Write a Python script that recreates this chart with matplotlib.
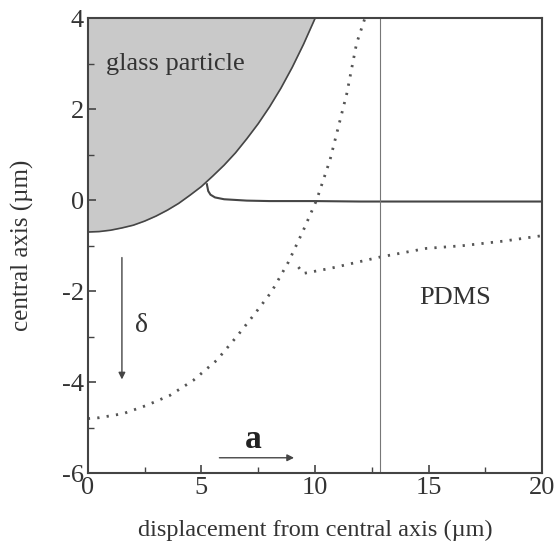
import matplotlib
matplotlib.use('Agg')
import numpy as np
import matplotlib.pyplot as plt

plt.rcParams['font.family'] = ['Liberation Serif', 'DejaVu Serif']
plt.rcParams['axes.unicode_minus'] = False

# glass particle surface
glass_x = [0, 0.5, 1, 1.5, 2, 2.5, 3, 3.5, 4, 4.5, 5, 5.5, 6, 6.5, 7, 7.5, 8, 8.5, 9, 9.5, 10, 10.1]
glass_y = [-0.70, -0.69, -0.66, -0.61, -0.55, -0.46, -0.35, -0.22, -0.07, 0.11, 0.30, 0.53, 0.77,
           1.04, 1.35, 1.68, 2.05, 2.46, 2.92, 3.43, 3.99, 4.11]

# solid line: PDMS surface
surf_x = [5.24, 5.3, 5.4, 5.6, 6.0, 7.0, 8.0, 10.0, 12.0, 14.0, 20.0]
surf_y = [0.35, 0.20, 0.12, 0.06, 0.02, -0.01, -0.02, -0.02, -0.03, -0.03, -0.03]

# dotted line 1
dot1_x = [0.0, 0.5, 1.56, 2.58, 3.61, 4.64, 5.67, 6.55, 7.36, 8.09, 8.83, 9.49, 10.07, 10.66, 11.4, 11.83, 12.2]
dot1_y = [-4.80, -4.78, -4.69, -4.51, -4.29, -3.96, -3.52, -3.0, -2.49, -2.01, -1.36, -0.66, 0.0, 0.88, 2.34, 3.44, 4.0]

# dotted line 2
dot2_x = [9.27, 9.49, 10.66, 12.86, 14.9, 16.5, 18.3, 20.0]
dot2_y = [-1.47, -1.61, -1.50, -1.25, -1.06, -1.0, -0.9, -0.78]

x_line = 12.85
line_col = '#454545'

fig = plt.figure(figsize=(5.56, 5.49), dpi=100)
ax = fig.add_axes([0.158, 0.138, 0.817, 0.829])

ax.fill_between(glass_x, glass_y, 4, color='#c9c9c9', lw=0)
ax.plot(glass_x, glass_y, color=line_col, lw=1.2)
ax.plot(surf_x, surf_y, color=line_col, lw=1.5)
ax.plot(dot1_x, dot1_y, color='#555555', lw=2.0, ls=(0, (0.8, 2.6)))
ax.plot(dot2_x, dot2_y, color='#555555', lw=2.0, ls=(0, (0.8, 2.6)))
ax.axvline(x_line, color='#777777', lw=0.8)

ax.annotate('', xy=(1.5, -4.0), xytext=(1.5, -1.2),
            arrowprops=dict(arrowstyle='-|>', color=line_col, lw=1.0, mutation_scale=10))
ax.annotate('', xy=(9.2, -5.66), xytext=(5.67, -5.66),
            arrowprops=dict(arrowstyle='-|>', color=line_col, lw=1.0, mutation_scale=10))
ax.text(2.35, -2.75, 'δ', fontsize=20, color='#333333', ha='center', va='center')
ax.text(7.3, -5.25, 'a', fontsize=24, fontweight='bold', color='#222222', ha='center', va='center')
ax.text(0.8, 3.0, 'glass particle', fontsize=19, color='#333333', va='center')
ax.text(16.15, -2.15, 'PDMS', fontsize=19, color='#333333', ha='center', va='center')

ax.set_xlim(0, 20)
ax.set_ylim(-6, 4)
ax.set_xticks([0, 5, 10, 15, 20])
ax.set_xticks([2.5, 7.5, 12.5, 17.5], minor=True)
ax.set_yticks([-6, -4, -2, 0, 2, 4])
ax.set_yticks([-5, -3, -1, 1, 3], minor=True)
ax.tick_params(which='both', direction='in', color='#444444', labelsize=19, labelcolor='#333333')
ax.tick_params(which='major', length=6, width=1.2, pad=3)
ax.tick_params(which='minor', length=4, width=1.0)
for s in ax.spines.values():
    s.set_color('#444444')
    s.set_linewidth(1.5)

ax.set_xlabel('displacement from central axis (µm)', fontsize=17.5, color='#333333', va='center')
ax.set_ylabel('central axis (µm)', fontsize=18, color='#333333', va='center')
ax.xaxis.set_label_coords(0.5, -0.125)
ax.yaxis.set_label_coords(-0.145, 0.5)

fig.savefig('out.png', dpi=100)
